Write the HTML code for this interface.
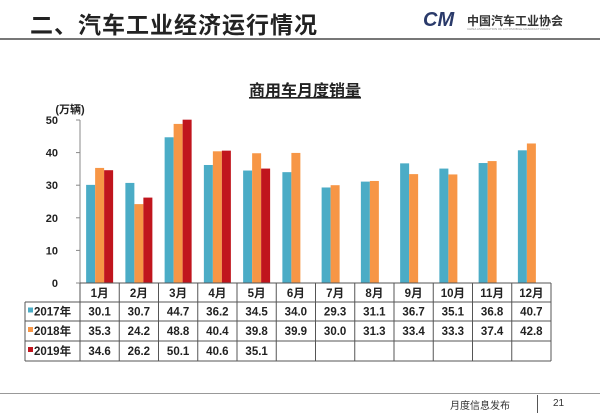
<!DOCTYPE html>
<html><head><meta charset="utf-8"><style>
body{margin:0;width:600px;height:415px;background:#fff;overflow:hidden;font-family:"Liberation Sans","Noto Sans CJK SC",sans-serif;position:relative}
.a{position:absolute}
</style></head><body>
<div class="a" style="left:30px;top:6px;font-size:23px;font-weight:bold;color:#222;letter-spacing:1px">二、汽车工业经济运行情况</div>
<div class="a" style="left:423px;top:12px;width:160px;height:22px">
<span style="position:absolute;left:0;top:-3px;font-size:20px;font-weight:bold;font-style:italic;color:#2a3a6a">CM</span>
<span style="position:absolute;left:44px;top:0;font-size:12px;font-weight:bold;color:#333">中国汽车工业协会</span>
<span style="position:absolute;left:44px;top:15px;font-size:3px;color:#888;white-space:nowrap">CHINA ASSOCIATION OF AUTOMOBILE MANUFACTURERS</span></div>
<div class="a" style="left:0;top:38px;width:600px;height:2px;background:#777"></div>
<div class="a" style="left:0;top:393px;width:600px;height:1px;background:#999"></div>
<div class="a" style="left:450px;top:397px;font-size:10px;color:#333">月度信息发布</div>
<div class="a" style="left:537px;top:395px;width:1px;height:18px;background:#555"></div>
<div class="a" style="left:553px;top:398px;font-size:10px;color:#333">21</div>
<svg class="a" style="left:0;top:0" width="600" height="415">
<text x="305" y="96" text-anchor="middle" font-size="16" font-weight="bold" fill="#222" text-decoration="underline">商用车月度销量</text>
<text x="70" y="113" text-anchor="middle" font-size="11" font-weight="bold" fill="#222">(万辆)</text>
<g id="g"></g>
</svg>
<script>
const months=["1月","2月","3月","4月","5月","6月","7月","8月","9月","10月","11月","12月"];
const seriesNames=["2017年","2018年","2019年"];
const s2017=[30.1,30.7,44.7,36.2,34.5,34.0,29.3,31.1,36.7,35.1,36.8,40.7];
const s2018=[35.3,24.2,48.8,40.4,39.8,39.9,30.0,31.3,33.4,33.3,37.4,42.8];
const s2019=[34.6,26.2,50.1,40.6,35.1];
const yTicks=[0,10,20,30,40,50];
const colors=["#4bacc6","#f79646","#c0151d"];
const NS="http://www.w3.org/2000/svg",g=document.getElementById('g');
const x0=80,x1=551,y0=283,yTop=120,yMax=50;
const cw=(x1-x0)/months.length,bw=9;
const y=v=>y0-(v/yMax)*(y0-yTop);
function mk(t,a){const e=document.createElementNS(NS,t);for(const k in a)e.setAttribute(k,a[k]);g.appendChild(e);return e;}
const ax=mk('line',{x1:x0,y1:yTop,x2:x0,y2:y0,stroke:'#888'});


yTicks.forEach(t=>{const yy=y(t);mk('line',{x1:x0-4,y1:yy,x2:x0,y2:yy,stroke:'#888'});
const tx=mk('text',{x:58,y:yy+4,'text-anchor':'end','font-size':11,'font-weight':'bold',fill:'#222'});tx.textContent=t;

});
const all=[s2017,s2018,s2019];
all.forEach((s,si)=>s.forEach((v,i)=>{const cx=x0+cw*(i+.5);const bx=cx-1.5*bw+si*bw;
const r=mk('rect',{x:bx,y:y(v),width:bw,height:y0-y(v),fill:colors[si]});

}));
const rows=[283,302,321,341,361],L=25;
const st={stroke:'#555','stroke-width':1};
rows.forEach((ry,k)=>mk('line',Object.assign({x1:k==0?x0:L,y1:ry,x2:x1,y2:ry},st)));
mk('line',Object.assign({x1:L,y1:302,x2:L,y2:361},st));
for(let i=0;i<=months.length;i++){const xx=x0+cw*i;mk('line',Object.assign({x1:xx,y1:283,x2:xx,y2:361},st));}
months.forEach((m,i)=>{const t=mk('text',{x:x0+cw*(i+.5),y:297,'text-anchor':'middle','font-size':11.5,'font-weight':'bold',fill:'#222'});t.textContent=m;

});
all.forEach((s,si)=>{const cy=(rows[si+1]+rows[si+2])/2+4;
mk('rect',{x:28,y:cy-8,width:5,height:5,fill:colors[si]});
const lt=mk('text',{x:34,y:cy,'font-size':11.5,'font-weight':'bold',fill:'#222'});lt.textContent=seriesNames[si];


s.forEach((v,i)=>{const t=mk('text',{x:x0+cw*(i+.5),y:cy,'text-anchor':'middle','font-size':11.5,'font-weight':'bold',fill:'#222'});t.textContent=v.toFixed(1);

});});
</script>
</body></html>
